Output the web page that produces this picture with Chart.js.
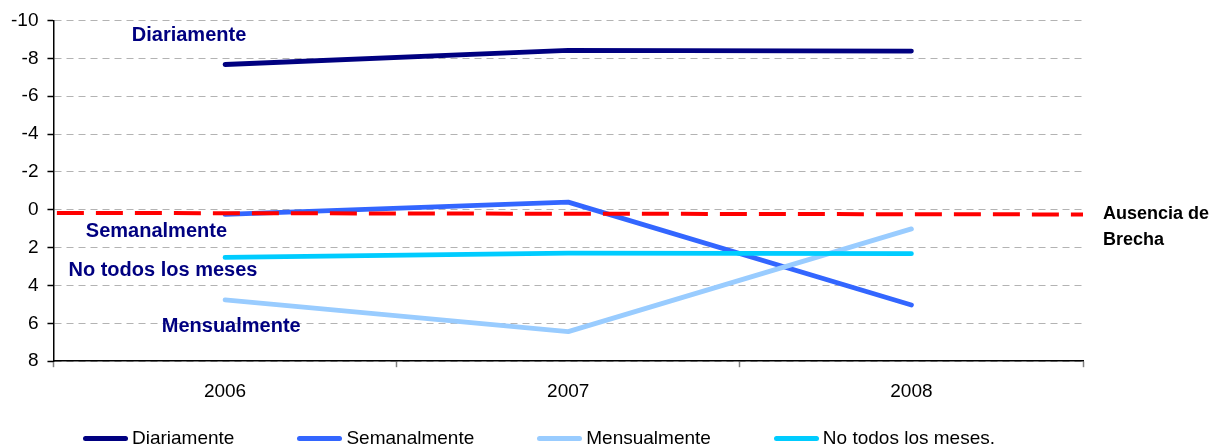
<!DOCTYPE html>
<html><head><meta charset="utf-8">
<script src="https://cdn.jsdelivr.net/npm/chart.js@4/dist/chart.umd.min.js"></script>
<style>
html,body{margin:0;padding:0;background:#fff;}
#wrap{position:relative;width:1223px;height:446px;overflow:hidden;}
#legend{position:absolute;left:83px;top:427px;display:flex;align-items:center;gap:63px;font:19px "Liberation Sans",Arial,sans-serif;color:#000;white-space:nowrap;line-height:22px;}
.item{display:flex;align-items:center;}
.sw{width:45px;height:5px;border-radius:2.5px;margin-right:4px;}
</style></head>
<body><div id="wrap"><canvas id="c" width="1223" height="446"></canvas><div id="legend"></div></div>
<script>
// ---- data ----
const categories = ['2006', '2007', '2008'];
const seriesNames = ['Diariamente', 'Semanalmente', 'Mensualmente', 'No todos los meses.'];
const diariamente = [-7.67, -8.42, -8.38];
const semanalmente = [0.25, -0.40, 5.03];
const mensualmente = [4.76, 6.44, 1.01];
const noTodos = [2.52, 2.29, 2.32];
const referenceName = 'Ausencia de Brecha';
const referenceX = [-0.49, 2.5];
const referenceY = [0.17, 0.25];
const yTicks = { min: -10, max: 8, step: 2 };
// in-chart series labels (anchored in data units)
const annoText = ['Diariamente', 'Semanalmente', 'No todos los meses', 'Mensualmente'];
const annoX = [-0.105, -0.20, -0.181, 0.018];
const annoY = [-9.19, 1.17, 3.21, 6.18];
const refLabelLines = ['Ausencia de', 'Brecha'];
const refLabelX = 2.558;
const refLabelY = [0.25, 1.62];

const colors = ['#000080', '#3366FF', '#99CCFF', '#00CCFF'];
const FONT = '"Liberation Sans", Arial, sans-serif';

const seriesData = [diariamente, semanalmente, mensualmente, noTodos];
const datasets = seriesData.map((d, i) => ({
  label: seriesNames[i],
  data: d,
  borderColor: colors[i],
  backgroundColor: colors[i],
  borderWidth: 4.8,
  borderCapStyle: 'round',
  borderJoinStyle: 'round',
  pointRadius: 0,
  tension: 0,
  fill: false,
  xAxisID: 'x',
  order: 4 - i
}));
datasets.push({
  label: referenceName,
  data: referenceX.map((x, i) => ({ x: x, y: referenceY[i] })),
  borderColor: '#FF0000',
  borderWidth: 4,
  borderDash: [27, 12],
  pointRadius: 0,
  fill: false,
  xAxisID: 'xr',
  order: 0
});

const labelPlugin = {
  id: 'labels',
  afterDatasetsDraw(chart) {
    const ctx = chart.ctx;
    const xs = chart.scales.xr, ys = chart.scales.y;
    ctx.save();
    ctx.font = 'bold 20px ' + FONT;
    ctx.fillStyle = '#000080';
    ctx.textAlign = 'center';
    ctx.textBaseline = 'middle';
    annoText.forEach((t, i) => {
      ctx.fillText(t, xs.getPixelForValue(annoX[i]), ys.getPixelForValue(annoY[i]));
    });
    ctx.font = 'bold 18px ' + FONT;
    ctx.fillStyle = '#000';
    ctx.textAlign = 'left';
    refLabelLines.forEach((t, i) => {
      ctx.fillText(t, xs.getPixelForValue(refLabelX), ys.getPixelForValue(refLabelY[i]));
    });
    ctx.restore();
  }
};

const chart = new Chart(document.getElementById('c'), {
  type: 'line',
  data: { labels: categories, datasets: datasets },
  options: {
    responsive: false,
    animation: false,
    layout: { padding: { top: 13, right: 140, bottom: 30, left: 2 } },
    plugins: { legend: { display: false }, tooltip: { enabled: false } },
    scales: {
      x: {
        type: 'category',
        offset: true,
        grid: { offset: true, drawOnChartArea: false, drawTicks: true, tickLength: 6, tickColor: '#808080', tickWidth: 1.5 },
        border: { color: '#000', width: 1.5 },
        ticks: { color: '#000', font: { family: FONT, size: 19 }, padding: 13 }
      },
      xr: {
        type: 'linear',
        display: false,
        min: -0.5,
        max: 2.5
      },
      y: {
        reverse: true,
        min: yTicks.min,
        max: yTicks.max,
        grid: { color: '#B3B3B3', lineWidth: 1, tickLength: 6, tickColor: '#000', tickWidth: 1.5 },
        border: { color: '#000', width: 1.5, dash: [7, 5] },
        ticks: { stepSize: yTicks.step, color: '#000', font: { family: FONT, size: 19 }, padding: 9 }
      }
    }
  },
  plugins: [labelPlugin]
});

// HTML legend built from the chart's datasets
const legendEl = document.getElementById('legend');
chart.data.datasets.forEach((ds) => {
  if (ds.xAxisID === 'xr') return;
  const item = document.createElement('div');
  item.className = 'item';
  const sw = document.createElement('span');
  sw.className = 'sw';
  sw.style.background = ds.borderColor;
  const tx = document.createElement('span');
  tx.textContent = ds.label;
  item.appendChild(sw); item.appendChild(tx);
  legendEl.appendChild(item);
});
</script>
</body></html>
